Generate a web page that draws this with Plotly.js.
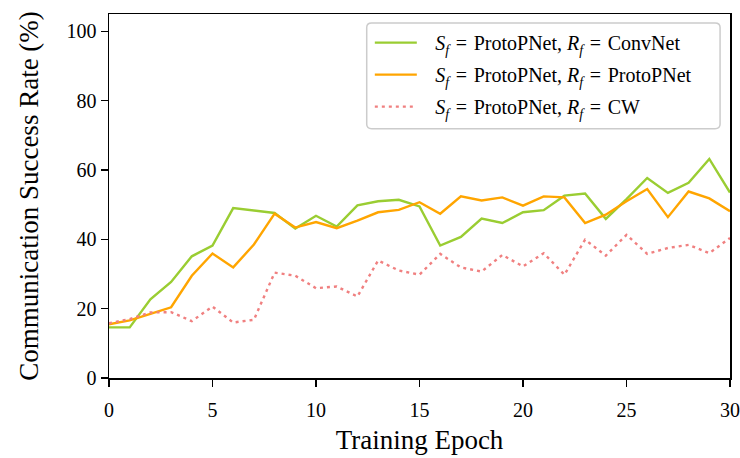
<!DOCTYPE html>
<html>
<head>
<meta charset="utf-8">
<script src="https://cdn.plot.ly/plotly-3.0.1.min.js"></script>
<style>
  html, body { margin: 0; padding: 0; background: #fff; }
  #chart { width: 740px; height: 458px; }
</style>
</head>
<body>
<div id="chart"></div>
<script>
// Communication success rate per training epoch for three receiver set-ups
const epochs = [0,1,2,3,4,5,6,7,8,9,10,11,12,13,14,15,16,17,18,19,20,21,22,23,24,25,26,27,28,29,30];

const convNet = [14.6,14.6,22.7,27.7,35.1,38.2,49.0,48.2,47.6,43.1,46.8,43.7,49.8,51.0,51.4,49.5,
                 38.2,40.7,46.0,44.7,47.8,48.4,52.6,53.2,45.9,51.6,57.7,53.4,56.3,63.2,53.5];

const protoPNet = [15.5,16.6,18.5,20.4,29.5,35.9,31.9,38.5,47.4,43.4,45.0,43.2,45.4,47.8,48.5,50.7,
                   47.4,52.4,51.2,52.1,49.7,52.4,52.1,44.7,47.1,51.0,54.5,46.4,53.8,51.8,48.1];

const cw = [15.8,17.0,18.9,19.0,16.4,20.6,16.0,16.8,30.4,29.5,25.9,26.4,23.5,33.9,31.0,29.8,
            35.8,31.9,30.7,35.5,32.2,36.0,29.8,39.9,35.3,41.3,35.8,37.5,38.4,36.0,40.4];

// math-style spacing around "=" and a small lead-in gap after the legend swatch
const eq = '&#8196;=&#8196;';
const lead = '&#8194;&#8198;';
const seriesNames = [
  lead + '<i>S</i><sub><i>f</i></sub>' + eq + 'ProtoPNet, <i>R</i><sub><i>f</i></sub>' + eq + 'ConvNet',
  lead + '<i>S</i><sub><i>f</i></sub>' + eq + 'ProtoPNet, <i>R</i><sub><i>f</i></sub>' + eq + 'ProtoPNet',
  lead + '<i>S</i><sub><i>f</i></sub>' + eq + 'ProtoPNet, <i>R</i><sub><i>f</i></sub>' + eq + 'CW'
];

const xTicks = [0,5,10,15,20,25,30];
const yTicks = [0,20,40,60,80,100];

const serif = 'Liberation Serif, Times New Roman, serif';

const traces = [
  { x: epochs, y: convNet, name: seriesNames[0], legendgroup: 'a', mode: 'lines',
    line: { color: '#9acd32', width: 2.4 } },
  { x: epochs, y: protoPNet, name: seriesNames[1], legendgroup: 'b', mode: 'lines',
    line: { color: '#ffa500', width: 2.4 } },
  { x: epochs, y: cw, name: seriesNames[2], legendgroup: 'c', mode: 'lines',
    line: { color: '#f08080', width: 2.4, dash: '3px,4px' } }
];

const layout = {
  width: 740, height: 458,
  margin: { l: 109, r: 10, t: 14, b: 80 },
  paper_bgcolor: '#fff', plot_bgcolor: '#fff',
  font: { family: serif, color: '#000', size: 20 },
  showlegend: true,
  legend: {
    x: 0.42, xanchor: 'left', y: 0.975, yanchor: 'top',
    bgcolor: 'rgba(0,0,0,0)', borderwidth: 0,
    font: { family: serif, size: 20, color: '#000' },
    itemwidth: 42,
    tracegroupgap: 3
  },
  xaxis: {
    range: [0, 30], tickvals: xTicks, ticktext: xTicks.map(String),
    showgrid: false, zeroline: false,
    showline: true, linecolor: '#000', linewidth: 1.5, mirror: true,
    ticks: 'outside', ticklen: 7, tickwidth: 1.5, tickcolor: '#000',
    ticklabelstandoff: 6,
    tickfont: { family: serif, size: 20 },
    title: { text: 'Training Epoch', font: { family: serif, size: 27 }, standoff: 10 }
  },
  yaxis: {
    range: [0, 105], tickvals: yTicks, ticktext: yTicks.map(String),
    showgrid: false, zeroline: false,
    showline: true, linecolor: '#000', linewidth: 1.5, mirror: true,
    ticks: 'outside', ticklen: 7, tickwidth: 1.5, tickcolor: '#000',
    tickfont: { family: serif, size: 20 },
    title: { text: 'Communication Success Rate (%)', font: { family: serif, size: 27 }, standoff: 20 }
  },
  shapes: [{
    // rounded frame behind the legend
    type: 'path', xref: 'paper', yref: 'paper', layer: 'above',
    path: 'M 0.423,0.975 L 0.976,0.975 Q 0.984,0.975 0.984,0.963 L 0.984,0.697 Q 0.984,0.685 0.976,0.685 L 0.423,0.685 Q 0.415,0.685 0.415,0.697 L 0.415,0.963 Q 0.415,0.975 0.423,0.975 Z',
    line: { color: '#cccccc', width: 1.5 },
    fillcolor: 'rgba(255,255,255,0.8)'
  }]
};

Plotly.newPlot('chart', traces, layout, { staticPlot: true, displayModeBar: false });
</script>
</body>
</html>
